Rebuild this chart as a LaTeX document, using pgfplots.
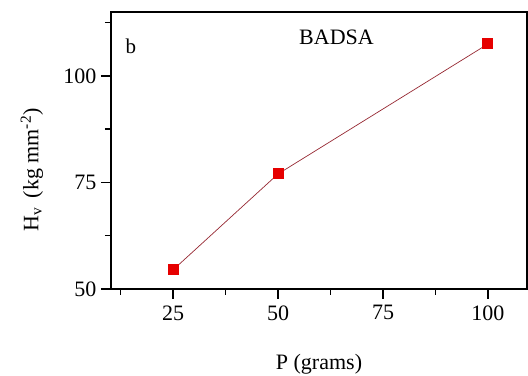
\documentclass[border=0pt]{standalone}
\usepackage{pgfplots}
\pgfplotsset{compat=1.18}
\usepackage{fontspec}
\setmainfont{Liberation Serif}
\usetikzlibrary{calc}
\definecolor{mred}{RGB}{230,0,0}
\definecolor{lred}{RGB}{150,40,50}
\begin{document}
\begin{tikzpicture}
\begin{axis}[
  scale only axis,
  width=416pt, height=277pt,
  xmin=10.2, xmax=109.3,
  ymin=50, ymax=115,
  xtick={25,50,75,100},
  ytick={50,75,100},
  minor xtick={12.5,37.5,62.5,87.5},
  minor ytick={62.5,87.5,112.5},
  xtick pos=bottom, ytick pos=left,
  tick align=outside,
  major tick length=10pt, minor tick length=6pt,
  every tick/.style={black, line width=1.4pt},
  axis line style={line width=1.4pt},
  /pgf/number format/assume math mode=true,
  tick label style={font=\fontsize{22}{24}\selectfont},
  xticklabel style={yshift=-3pt},
  yticklabel style={xshift=-1pt},
  xlabel={P (grams)},
  ylabel={H\textsubscript{v}\,  (kg mm\textsuperscript{-2})},
  label style={font=\fontsize{22}{24}\selectfont},
  xlabel style={at={(axis description cs:0.5,-0.27)}, anchor=center},
  ylabel style={at={(axis description cs:-0.19,0.43)}, anchor=center},
  clip=false,
]
\addplot[color=lred, line width=0.7pt, mark=square*, mark size=5pt,
  mark options={draw=mred, fill=mred, line width=0pt}]
  coordinates {(25,54.5) (50,77) (100,107.5)};
\node[font=\fontsize{21}{24}\selectfont] at (axis description cs:0.048,0.877) {b};
\node[font=\fontsize{22}{24}\selectfont] at (axis description cs:0.542,0.908) {BADSA};
\end{axis}
\pgfresetboundingbox
\path ($(current axis.south west)+(-111pt,-87pt)$) rectangle ($(current axis.north east)+(1pt,12pt)$);
\end{tikzpicture}
\end{document}
